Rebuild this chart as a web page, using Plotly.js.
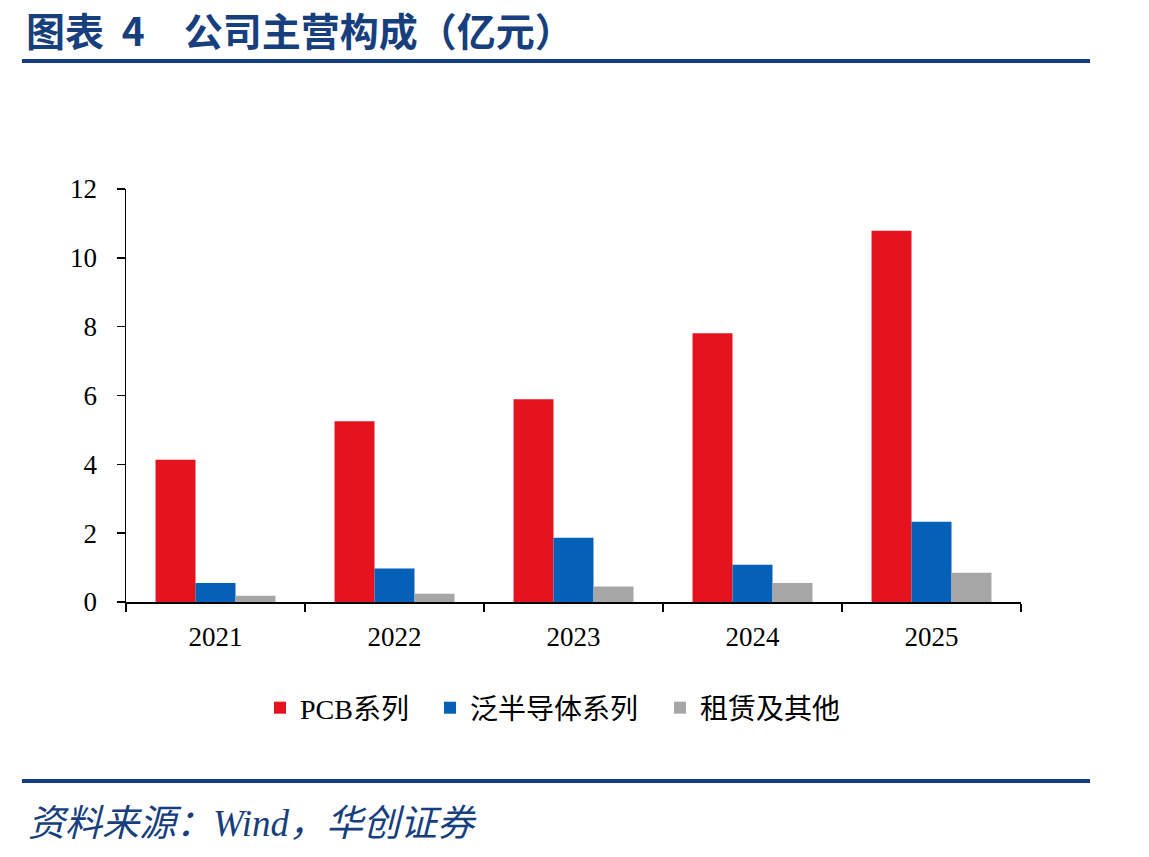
<!DOCTYPE html>
<html>
<head>
<meta charset="utf-8">
<script src="https://cdn.plot.ly/plotly-3.0.1.min.js"></script>
<style>
  html, body { margin: 0; padding: 0; background: #fff; }
  #chart { width: 1149px; height: 857px; }
</style>
</head>
<body>
<div id="chart"></div>
<script>
// 公司主营构成（亿元）
const years = ['2021', '2022', '2023', '2024', '2025'];
const pcb = [4.13, 5.25, 5.89, 7.81, 10.79];
const semi = [0.55, 0.97, 1.87, 1.08, 2.33];
const lease = [0.18, 0.24, 0.45, 0.55, 0.85];
const seriesNames = ['PCB系列', '泛半导体系列', '租赁及其他'];
const yTicks = [0, 2, 4, 6, 8, 10, 12];

const colors = ['#E5131E', '#0461B7', '#A6A6A6'];
const navy = '#173F7E';
const serif = '"Liberation Serif", "Times New Roman", "Noto Sans CJK SC", serif';
const cjk = '"Noto Sans CJK SC", sans-serif';

// plot area in pixels: x 126..1021, y 189..602
const L = 126, R = 1021, T = 189, B = 602, H = 857;
const px = v => (v - L) / (R - L);
const py = v => (B - v) / (B - T);

// each series has its own legend box so the entries can be spaced freely
const legendIds = ['legend', 'legend2', 'legend3'];
const legendLeft = [260, 430, 660];

const traces = [pcb, semi, lease].map((vals, i) => ({
  type: 'bar',
  name: seriesNames[i],
  x: years,
  y: vals,
  legend: legendIds[i],
  marker: { color: colors[i], line: { width: 0 } },
  hoverinfo: 'x+y+name'
}));

const layout = {
  width: 1149,
  height: 857,
  paper_bgcolor: '#ffffff',
  plot_bgcolor: '#ffffff',
  margin: { l: L, r: 1149 - R, t: T, b: H - B, pad: 0 },
  barmode: 'group',
  bargap: 0.33,
  bargroupgap: 0,
  showlegend: true,
  xaxis: {
    type: 'category',
    showline: true, linecolor: '#000', linewidth: 1.5,
    ticks: 'outside', tickson: 'boundaries', ticklen: 8, tickwidth: 1.5, tickcolor: '#000',
    showgrid: false, zeroline: false,
    tickfont: { family: serif, size: 27, color: '#000' },
    ticklabelstandoff: 10,
    fixedrange: true
  },
  yaxis: {
    range: [0, 12],
    tickvals: yTicks,
    ticktext: yTicks.map(String),
    showline: true, linecolor: '#000', linewidth: 1.5,
    ticks: 'outside', ticklen: 8, tickwidth: 1.5, tickcolor: '#000',
    showgrid: false, zeroline: false,
    tickfont: { family: serif, size: 27, color: '#000' },
    ticklabelstandoff: 14,
    fixedrange: true
  },
  shapes: [
    { type: 'line', xref: 'paper', yref: 'paper',
      x0: px(22), x1: px(1090), y0: py(61), y1: py(61),
      line: { color: '#123F84', width: 4 } },
    { type: 'line', xref: 'paper', yref: 'paper',
      x0: px(22), x1: px(1090), y0: py(781), y1: py(781),
      line: { color: '#123F84', width: 4 } }
  ],
  annotations: [
    { xref: 'paper', yref: 'paper',
      x: px(24), xanchor: 'left', y: py(29), yanchor: 'middle',
      text: '<b>图表\u00a0\u00a04\u3000公司主营构成（亿元）</b>',
      showarrow: false,
      font: { family: cjk, size: 39, color: navy } },
    { xref: 'paper', yref: 'paper',
      x: px(26), xanchor: 'left', y: py(823), yanchor: 'middle',
      text: '<i>资料来源：Wind，华创证券</i>',
      showarrow: false,
      font: { family: '"Liberation Serif", "Noto Sans CJK SC", serif', size: 37, color: navy } }
  ]
};

legendIds.forEach((id, i) => {
  layout[id] = {
    orientation: 'h',
    x: px(legendLeft[i]), xanchor: 'left',
    y: py(708), yanchor: 'middle',
    font: { family: serif, size: 28, color: '#000' },
    itemwidth: 30,
    bgcolor: 'rgba(0,0,0,0)'
  };
});

Plotly.newPlot('chart', traces, layout, { displayModeBar: false, staticPlot: true });
</script>
</body>
</html>
